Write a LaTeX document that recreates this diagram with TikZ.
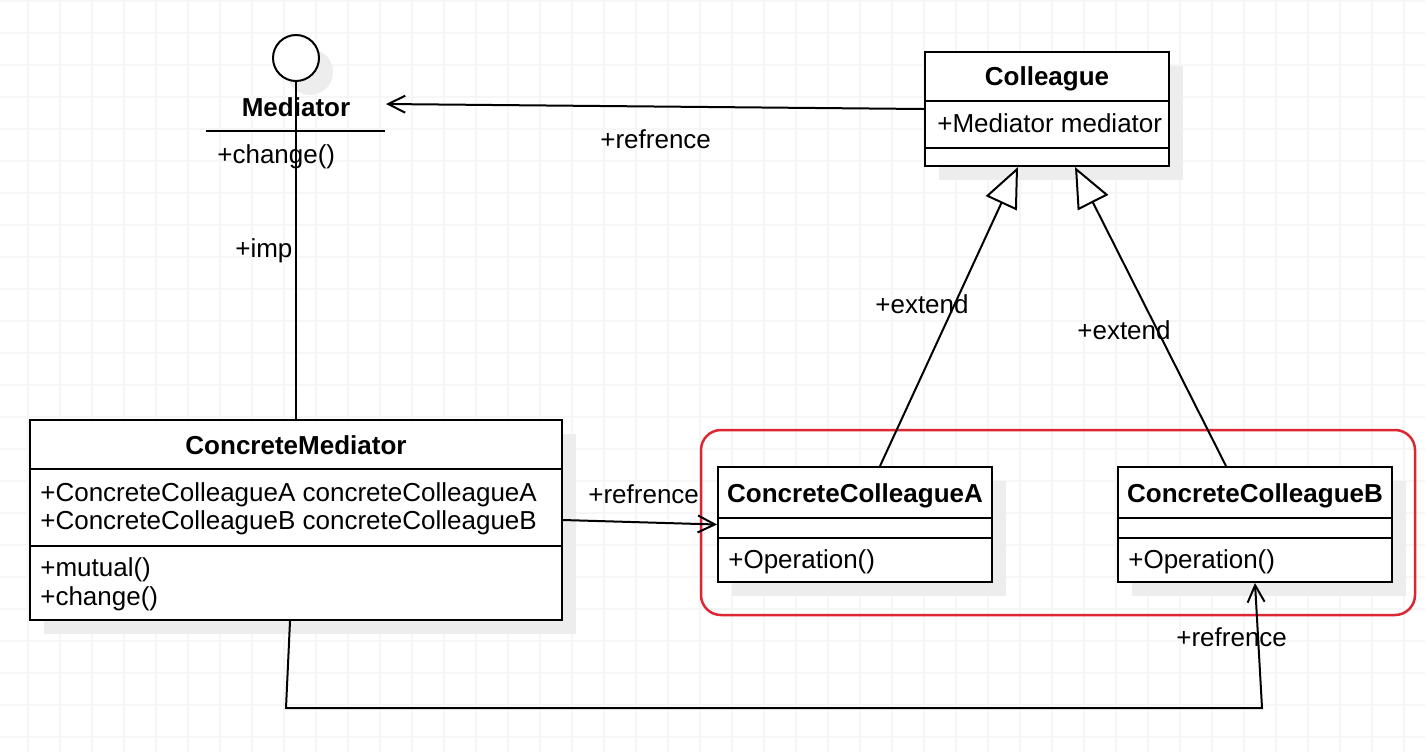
\documentclass[tikz,border=0pt]{standalone}
\usepackage{fontspec}
\setmainfont{Liberation Sans}
\usetikzlibrary{arrows.meta,calc,shadows}
\definecolor{grpred}{RGB}{220,38,50}
\definecolor{gridgray}{RGB}{246,246,246}
\newcommand{\px}{0.02cm}
\tikzset{
	classbox/.style={draw, line width=0.04cm, fill=white, inner sep=0pt,
		drop shadow={shadow xshift=0.28cm, shadow yshift=-0.28cm, fill=black!7, opacity=1}},
	txt/.style={inner sep=0pt, anchor=base west, font=\fontsize{14.8pt}{16.5pt}\selectfont},
	ttl/.style={inner sep=0pt, anchor=base, font=\fontsize{14.8pt}{16.5pt}\selectfont\bfseries},
	conn/.style={line width=0.04cm},
	opentip/.style={-{Straight Barb[length=0.34cm, width=0.34cm]}},
	extendtip/.style={-{Triangle[length=0.8cm, width=0.68cm, fill=white]}}
}
\begin{document}
\begin{tikzpicture}[x=\px, y=-\px]
	%background grid
	\fill[white] (0,0) rectangle (1425,752);
	\useasboundingbox (0,0) rectangle (1425,752);
	\foreach \x in {28,60,...,1420}{
		\draw[gridgray, line width=0.04cm] (\x,0)--(\x,752);
	}
	\foreach \y in {1,33,...,750}{
		\draw[gridgray, line width=0.04cm] (0,\y)--(1425,\y);
	}
	
	%Mediator interface
	\node (mi) at (296,58) [classbox, circle, minimum size=0.92cm]{};
	\node (mitl) at (296,116) [ttl]{Mediator};
	\draw[conn] (206,131)--(385,131);
	\node (mich) at (217,163) [txt]{+change()};
	
	%ConcreteMediator
	\node (cm) at (296,520) [classbox, minimum width=10.64cm, minimum height=4cm]{};
	\draw[conn] (30,469)--(562,469);
	\draw[conn] (30,546)--(562,546);
	\node (cmtl) at (296,454) [ttl]{ConcreteMediator};
	\node (cma1) at (40,501) [txt]{+ConcreteColleagueA concreteColleagueA};
	\node (cma2) at (40,529) [txt]{+ConcreteColleagueB concreteColleagueB};
	\node (cmm1) at (40,576) [txt]{+mutual()};
	\node (cmm2) at (40,605) [txt]{+change()};
	
	%Colleague
	\node (col) at (1047,109) [classbox, minimum width=4.88cm, minimum height=2.28cm]{};
	\draw[conn] (925,101)--(1169,101);
	\draw[conn] (925,148)--(1169,148);
	\node (coltl) at (1047,85) [ttl]{Colleague};
	\node (cola) at (937,132) [txt]{+Mediator mediator};
	
	%ConcreteColleagueA, ConcreteColleagueB
	\node (cca) at (855,524.5) [classbox, minimum width=5.48cm, minimum height=2.3cm]{};
	\draw[conn] (718,518)--(992,518);
	\draw[conn] (718,538)--(992,538);
	\node (ccatl) at (855,502) [ttl]{ConcreteColleagueA};
	\node (ccam) at (728,568) [txt]{+Operation()};
	
	\node (ccb) at (1255,524.5) [classbox, minimum width=5.48cm, minimum height=2.3cm]{};
	\draw[conn] (1118,518)--(1392,518);
	\draw[conn] (1118,538)--(1392,538);
	\node (ccbtl) at (1255,502) [ttl]{ConcreteColleagueB};
	\node (ccbm) at (1128,568) [txt]{+Operation()};
	
	%group frame
	\draw[grpred, line width=0.05cm, rounded corners=0.4cm] (701,430) rectangle (1415,615);
	
	%connectors
	\coordinate (mir) at (386,104);
	\draw[conn, opentip] (col.west) -- (mir);
	\node (lref1) at (600,148) [txt]{+refrence};
	
	\draw[conn] (mi.south) -- (cm.north);
	\node (limp) at (235,257) [txt]{+imp};
	
	\draw[conn, extendtip] ($(cca.north)+(25,0)$) -- ($(col.south)+(-29,0)$);
	\draw[conn, extendtip] ($(ccb.north)+(-29,0)$) -- ($(col.south)+(28,0)$);
	\node (lext1) at (875,313) [txt]{+extend};
	\node (lext2) at (1077,339) [txt]{+extend};
	
	\draw[conn, opentip] (cm.east) -- (cca.west);
	\node (lref2) at (588,503) [txt]{+refrence};
	
	\coordinate (bl) at (286,708);
	\coordinate (br) at (1262,708);
	\draw[conn, opentip] ($(cm.south)+(-6,0)$) -- (bl) -- (br) -- (ccb.south);
	\node (lref3) at (1176,646) [txt]{+refrence};
\end{tikzpicture}
\end{document}
